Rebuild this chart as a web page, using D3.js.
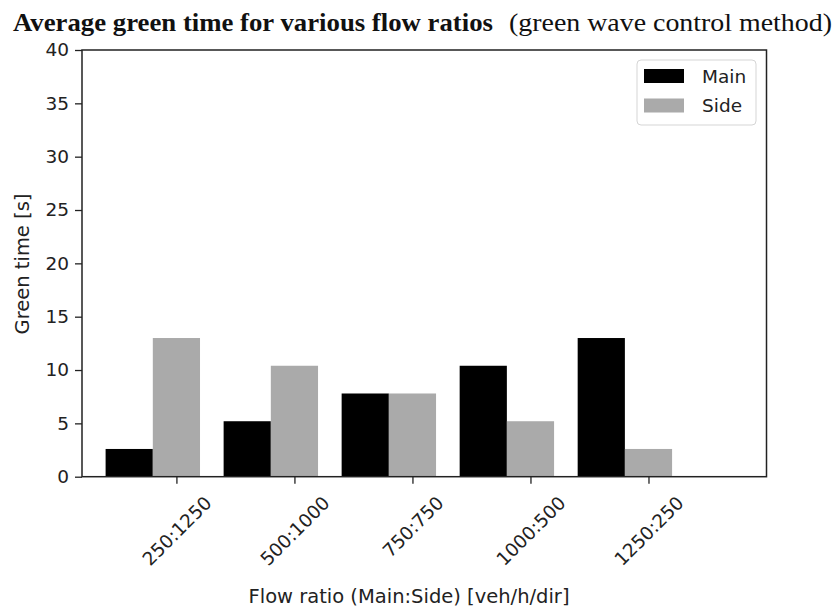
<!DOCTYPE html>
<html>
<head>
<meta charset="utf-8">
<script src="https://cdn.jsdelivr.net/npm/d3@7"></script>
<style>
  html, body { margin: 0; padding: 0; background: #fff; }
  svg { display: block; }
</style>
</head>
<body>
<svg id="chart" width="836" height="610"></svg>
<script>
// Flow ratios (Main:Side) and the resulting average green time per approach
const categories = ["250:1250", "500:1000", "750:750", "1000:500", "1250:250"];
const mainGreen = [2.6, 5.2, 7.8, 10.4, 13.0];
const sideGreen = [13.0, 10.4, 7.8, 5.2, 2.6];
const yTicks = [0, 5, 10, 15, 20, 25, 30, 35, 40];
const seriesNames = ["Main", "Side"];
const seriesColors = ["#000000", "#aaaaaa"];

const svg = d3.select("#chart");
const W = 836, H = 610;
const plot = { left: 82, right: 766.5, top: 50, bottom: 476.7 };
const axisColor = "#222";
const sansFont = "'DejaVu Sans', sans-serif";
const tickFontSize = 18.5;
const labelFontSize = 19.5;

svg.append("rect").attr("width", W).attr("height", H).attr("fill", "#fff");

// Scales: bar groups sit at integer positions, ticks under the Side bars
const x = d3.scaleLinear().domain([-0.8, 5.0]).range([plot.left, plot.right]);
const y = d3.scaleLinear().domain([0, 40]).range([plot.bottom, plot.top]);
const barWidth = 0.4;

const rows = categories.map((c, i) => ({ cat: c, i, main: mainGreen[i], side: sideGreen[i] }));

// Bars
const g = svg.append("g");
g.selectAll("rect.main").data(rows).join("rect")
  .attr("class", "main")
  .attr("x", d => x(d.i - 1.5 * barWidth))
  .attr("width", d => x(barWidth) - x(0))
  .attr("y", d => y(d.main))
  .attr("height", d => y(0) - y(d.main))
  .attr("fill", seriesColors[0]);
g.selectAll("rect.side").data(rows).join("rect")
  .attr("class", "side")
  .attr("x", d => x(d.i - 0.5 * barWidth))
  .attr("width", d => x(barWidth) - x(0))
  .attr("y", d => y(d.side))
  .attr("height", d => y(0) - y(d.side))
  .attr("fill", seriesColors[1]);

// Y axis
const yAxis = svg.append("g")
  .attr("transform", `translate(${plot.left},0)`)
  .call(d3.axisLeft(y).tickValues(yTicks).tickSize(7).tickPadding(6).tickSizeOuter(0));
yAxis.select(".domain").remove();
yAxis.selectAll("line").attr("stroke", axisColor).attr("stroke-width", 1.3);
yAxis.selectAll("text").attr("fill", "#222").style("font-family", sansFont).style("font-size", tickFontSize + "px");

// X axis
const xAxis = svg.append("g")
  .attr("transform", `translate(0,${plot.bottom})`)
  .call(d3.axisBottom(x).tickValues(d3.range(categories.length)).tickFormat(i => categories[i]).tickSize(7).tickSizeOuter(0));
xAxis.select(".domain").remove();
xAxis.selectAll("line").attr("stroke", axisColor).attr("stroke-width", 1.3);
// rotated labels: bounding box centred on the tick, top edge just below it
xAxis.selectAll("text")
  .attr("fill", "#222")
  .style("font-family", sansFont)
  .style("font-size", tickFontSize + "px")
  .attr("text-anchor", "middle")
  .attr("dominant-baseline", "central")
  .attr("dy", null)
  .each(function () {
    const L = this.getComputedTextLength();
    const h = tickFontSize * 0.75;
    const half = (L + h) / (2 * Math.SQRT2);
    const cy = 18 + half;
    d3.select(this).attr("y", cy).attr("transform", `rotate(-45, 0, ${cy})`);
  });

// Frame
svg.append("rect")
  .attr("x", plot.left).attr("y", plot.top)
  .attr("width", plot.right - plot.left).attr("height", plot.bottom - plot.top)
  .attr("fill", "none").attr("stroke", axisColor).attr("stroke-width", 1.5);

// Axis titles
svg.append("text")
  .attr("x", 409).attr("y", 603)
  .attr("text-anchor", "middle")
  .attr("fill", "#222")
  .style("font-family", sansFont).style("font-size", labelFontSize + "px")
  .text("Flow ratio (Main:Side) [veh/h/dir]");
svg.append("text")
  .attr("transform", `translate(29,264) rotate(-90)`)
  .attr("text-anchor", "middle")
  .attr("fill", "#222")
  .style("font-family", sansFont).style("font-size", labelFontSize + "px")
  .text("Green time [s]");

// Legend
const legend = svg.append("g");
legend.append("rect")
  .attr("x", 637).attr("y", 60).attr("width", 119).attr("height", 65)
  .attr("rx", 4).attr("fill", "#fff").attr("fill-opacity", 0.8)
  .attr("stroke", "#d5d5d5").attr("stroke-width", 1);
seriesNames.forEach((name, k) => {
  const cy = 76 + k * 29.5;
  legend.append("rect")
    .attr("x", 644).attr("y", cy - 7).attr("width", 40).attr("height", 14)
    .attr("fill", seriesColors[k]);
  legend.append("text")
    .attr("x", 702).attr("y", cy)
    .attr("dominant-baseline", "central")
    .attr("fill", "#222")
    .style("font-family", sansFont).style("font-size", tickFontSize + "px")
    .text(name);
});

// Title: bold lead followed by a regular subtitle, each fitted to its span
const serif = "'Liberation Serif', 'DejaVu Serif', serif";
svg.append("text")
  .attr("x", 13).attr("y", 31)
  .attr("textLength", 480).attr("lengthAdjust", "spacingAndGlyphs")
  .style("font-family", serif).style("font-size", "25px").style("font-weight", "bold")
  .attr("fill", "#111")
  .text("Average green time for various flow ratios");
svg.append("text")
  .attr("x", 509).attr("y", 31)
  .attr("textLength", 323).attr("lengthAdjust", "spacingAndGlyphs")
  .style("font-family", serif).style("font-size", "25px")
  .attr("fill", "#111")
  .text("(green wave control method)");
</script>
</body>
</html>
